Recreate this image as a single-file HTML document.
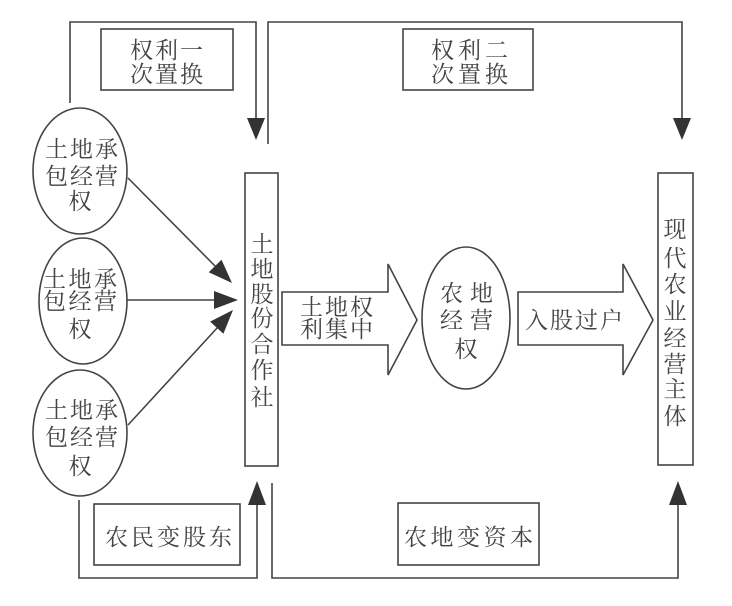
<!DOCTYPE html>
<html>
<head>
<meta charset="utf-8">
<style>
html,body{margin:0;padding:0;background:#fff;}
svg{display:block;}
text{font-family:"Liberation Serif","Noto Serif CJK SC","Noto Sans CJK SC",serif;fill:#444;font-size:23px;}
</style>
</head>
<body>
<svg width="732" height="606" viewBox="0 0 732 606" xmlns="http://www.w3.org/2000/svg">
<g stroke="#444" stroke-width="1.6" fill="none">
  <polyline points="70,103 70,22 256,22 256,120"/>
  <polyline points="268,144 268,22 682,22 682,120"/>
  <polyline points="79,500 79,578 257,578 257,503"/>
  <polyline points="272,483 272,578 678,578 678,503"/>
  <rect x="101" y="29" width="132" height="61"/>
  <rect x="403" y="29" width="130" height="61"/>
  <rect x="94" y="504" width="146" height="61"/>
  <rect x="398" y="503" width="141" height="62"/>
  <rect x="245" y="173" width="33" height="293"/>
  <rect x="658" y="173" width="35" height="292"/>
  <ellipse cx="80" cy="171" rx="47" ry="63"/>
  <ellipse cx="83" cy="301" rx="44" ry="63"/>
  <ellipse cx="80" cy="433" rx="47" ry="63"/>
  <ellipse cx="466" cy="318" rx="44" ry="71"/>
  <polygon points="282,292 388,292 388,264 417,320 388,375 388,345 282,345"/>
  <polygon points="518,292 623,292 623,264 653,320 623,375 623,345 518,345"/>
  <line x1="128" y1="178" x2="216" y2="267"/>
  <line x1="127" y1="300" x2="216" y2="300"/>
  <line x1="128" y1="425" x2="218" y2="327"/>
</g>
<g fill="#333" stroke="none">
  <polygon points="256,140 247,118 265,118"/>
  <polygon points="682,140 673,118 691,118"/>
  <polygon points="257,481 248,505 266,505"/>
  <polygon points="678,481 669,505 687,505"/>
  <polygon points="232,283 208.7,272.3 221.5,259.7"/>
  <polygon points="238,300 214,291 214,309"/>
  <polygon points="233,310 223.4,333.8 210.1,321.6"/>
</g>
<text x="130" y="58" textLength="73" lengthAdjust="spacing">权利一</text>
<text x="130" y="82" textLength="73" lengthAdjust="spacing">次置换</text>
<text x="431" y="58" textLength="77" lengthAdjust="spacing">权利二</text>
<text x="431" y="82" textLength="77" lengthAdjust="spacing">次置换</text>
<text x="105" y="545" textLength="127" lengthAdjust="spacing">农民变股东</text>
<text x="404" y="545" textLength="129" lengthAdjust="spacing">农地变资本</text>
<text x="45" y="157" textLength="73" lengthAdjust="spacing">土地承</text>
<text x="45" y="184" textLength="73" lengthAdjust="spacing">包经营</text>
<text x="80" y="209" text-anchor="middle">权</text>
<text x="43" y="287" textLength="74" lengthAdjust="spacing">土地承</text>
<text x="43" y="309" textLength="74" lengthAdjust="spacing">包经营</text>
<text x="80" y="337" text-anchor="middle">权</text>
<text x="45" y="418" textLength="73" lengthAdjust="spacing">土地承</text>
<text x="45" y="445" textLength="73" lengthAdjust="spacing">包经营</text>
<text x="80" y="474" text-anchor="middle">权</text>
<text x="440" y="301" textLength="53" lengthAdjust="spacing">农地</text>
<text x="440" y="328" textLength="53" lengthAdjust="spacing">经营</text>
<text x="466" y="357" text-anchor="middle">权</text>
<text x="300" y="315" textLength="73" lengthAdjust="spacing">土地权</text>
<text x="300" y="337" textLength="73" lengthAdjust="spacing">利集中</text>
<text x="525" y="328" textLength="98" lengthAdjust="spacing">入股过户</text>
<g text-anchor="middle">
<text x="262" y="252">土</text>
<text x="262" y="277">地</text>
<text x="262" y="302">股</text>
<text x="262" y="326">份</text>
<text x="262" y="352">合</text>
<text x="262" y="378">作</text>
<text x="262" y="405">社</text>
<text x="675" y="237">现</text>
<text x="675" y="266">代</text>
<text x="675" y="292">农</text>
<text x="675" y="319">业</text>
<text x="675" y="346">经</text>
<text x="675" y="372">营</text>
<text x="675" y="397">主</text>
<text x="675" y="424">体</text>
</g>
</svg>
</body>
</html>
